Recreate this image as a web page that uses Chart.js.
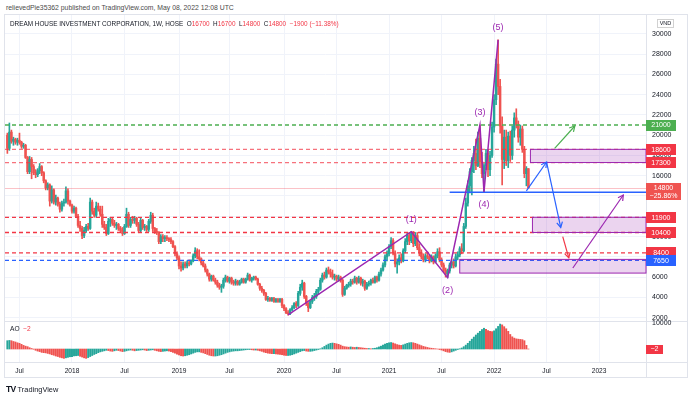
<!DOCTYPE html>
<html><head><meta charset="utf-8">
<script src="https://cdn.jsdelivr.net/npm/chart.js@4"></script>
<style>
html,body{margin:0;padding:0;background:#fff;}
#wrap{position:relative;width:690px;height:399px;overflow:hidden;background:#fff;font-family:"Liberation Sans",Arial,sans-serif;}
.abs{position:absolute;white-space:nowrap;}
.r{color:#f23645;}
</style></head><body>
<div id="wrap">
  <div class="abs" style="left:4px;top:14px;width:684px;height:364px;border:1px solid #e0e3eb;box-sizing:border-box"></div>
  <div class="abs" style="left:4px;top:321px;width:684px;height:1px;background:#e0e3eb"></div>
  <div class="abs" style="left:4px;top:362px;width:684px;height:1px;background:#e0e3eb"></div>
  <div class="abs" style="left:646px;top:14px;width:1px;height:364px;background:#e0e3eb"></div>
  <canvas id="main" class="abs" style="left:5px;top:15px" width="683" height="306"></canvas>
  <canvas id="aoc" class="abs" style="left:5px;top:314px" width="683" height="63"></canvas>
  <div id="hdr" class="abs" style="left:6px;top:3px;line-height:10px;color:#4a4a4a">relievedPie35362 published on TradingView.com, May 08, 2022 12:08 UTC</div>
  <div id="leg" class="abs" style="left:10px;top:19px;line-height:10px;color:#131722">DREAM HOUSE INVESTMENT CORPORATION, 1W, HOSE&nbsp; O<span class="r">16700</span>&nbsp; H<span class="r">16700</span>&nbsp; L<span class="r">14800</span>&nbsp; C<span class="r">14800</span>&nbsp; <span class="r">−1900 (−11.38%)</span></div>
  <div id="aol" class="abs" style="left:10px;top:324px;line-height:10px;color:#131722;font-size:6.6px">AO&nbsp; <span class="r">−2</span></div>
  <div id="foot" class="abs" style="left:6px;top:384px;line-height:10px;color:#131722;font-size:7.4px"><b style="font-size:8.5px;letter-spacing:-0.6px">TV</b> TradingView</div>
</div>
<script>
const FONT = '"Liberation Sans", Arial, sans-serif';

// ---------------- DATA ----------------
const firstWeek = '2017-05-22';   // weekly candles, one per Monday
const open = [
20000,18700,20300,19400,19600,19300,19500,19300,18900,19000,
17800,16400,17600,16900,16300,16100,16500,16900,16300,15500,
14800,15100,13500,14600,13400,13800,13200,12700,13300,13400,
14500,13500,13100,12500,12800,12000,11100,10800,10100,10600,
11000,10800,13400,12500,12100,13000,12700,12200,11200,10900,
10300,11500,11700,11300,11100,11200,10800,10600,10300,11000,
12200,11100,11700,11600,11800,11200,10600,11600,10900,11000,
10700,11500,12100,10800,10500,10400,9500,10000,9800,9900,
9800,9700,9500,9000,8300,7900,7100,6900,7300,7100,
7400,7300,7600,8100,8600,8000,7800,7400,7100,6700,
6300,5800,6100,5700,5500,5200,5000,5100,5700,6000,
5600,5900,5500,5400,5600,5300,5500,5800,5500,5800,
6200,5700,5900,6000,5800,5300,4900,4700,4400,3800,
3900,3700,3900,3600,3800,3600,3800,3200,2900,2500,
2400,2800,3000,3400,3200,4400,5000,5400,4100,3400,
3000,3600,4000,4100,4600,4800,5700,6200,6000,6700,
6500,6300,6000,6100,5800,6000,5700,4300,4900,5200,
5300,5600,5500,5900,5500,5900,5400,5600,4900,5300,
5400,5700,5500,6000,5700,6300,6700,7200,8000,8300,
9000,9600,8400,7300,7500,7900,7600,8600,9500,10100,
9600,10300,9300,10100,8900,8400,8000,7700,8100,8000,
7600,8000,7500,8100,8500,7700,7200,6700,6300,6600,
7200,7500,7100,8000,8200,8800,8600,11000,13300,15000,
16400,17500,18200,17000,19700,17400,16200,17000,18200,16600,
18000,20800,23500,27000,24800,20900,17600,19800,17500,19900,
18000,20500,21700,21000,19800,20600,18600,16200,16700];
const high = [
20200,21200,20500,19800,19700,19700,20200,19400,19200,19100,
17900,17900,17800,17100,16600,16700,17200,17000,16400,15600,
15300,15200,15000,14700,14100,13900,13400,13500,13700,14900,
14700,13600,13200,13000,12900,12200,11500,11000,10900,11200,
11300,13800,13600,12800,13400,13300,13000,13000,11500,11200,
11800,11900,11900,11600,11400,11300,11000,10900,11200,12800,
12400,11900,12000,12000,11900,11400,11800,11700,11200,11100,
11700,12400,12300,10900,10800,10500,10200,10200,10100,10100,
9900,9900,9600,9100,8500,8100,7500,7500,7500,7600,
7700,7700,8300,8900,8800,8700,7900,7600,7300,6800,
6400,6200,6200,5900,5700,5400,5300,5900,6200,6100,
6000,6000,5700,5800,5700,5700,5900,5900,5900,6400,
6300,6000,6100,6100,5900,5400,5100,4800,4500,4100,
4000,4000,4000,3900,3900,3900,3900,3300,3000,2700,
2900,3200,3500,3600,4600,5300,5700,5500,4200,3500,
3700,4200,4400,4800,5000,5900,6400,6500,6900,7000,
6800,6700,6300,6200,6200,6100,5800,5100,5300,5500,
5800,5800,6100,6000,6100,6000,5800,5700,5500,5600,
5800,5900,6100,6100,6500,6900,7400,8200,8600,9200,
9900,9800,8600,7800,8200,8300,8800,9800,10400,10400,
10500,10500,10400,10400,9300,8700,8300,8300,8500,8200,
8200,8100,8300,8800,8900,7900,7400,6900,6800,7400,
7700,7800,8300,8500,9000,9300,11300,13800,15500,16700,
17800,18900,19600,20300,21000,18300,17200,18600,18600,18400,
21300,24000,27500,29400,25500,21800,20500,20500,20300,20400,
20900,22200,22600,21400,21000,20900,18900,16900,16700];
const low = [
18200,18500,19200,19000,19100,19000,19100,18700,18700,17700,
16200,16200,15700,16100,15800,15900,16200,16000,15300,14600,
14600,13000,13300,13200,13100,13000,12400,12500,13000,13300,
13200,13000,12300,12300,11900,10900,10500,9800,9900,10400,
10600,10700,12200,11900,11900,12500,12000,10900,10700,10100,
10200,11000,11100,10900,10700,10600,10400,10100,10200,10900,
10900,10900,11300,11300,11000,10400,10400,10700,10600,10500,
10500,11300,10500,10300,10200,9300,9300,9500,9500,9600,
9500,9300,8900,8100,7700,6800,6600,6700,6900,6900,
7100,7200,7500,7900,7800,7600,7200,7000,6500,6100,
5600,5600,5600,5300,5000,4800,4500,4900,5500,5500,
5400,5300,5200,5200,5200,5200,5400,5400,5400,5700,
5600,5500,5700,5700,5200,4700,4500,4200,3700,3600,
3600,3600,3500,3500,3500,3500,3000,2700,2400,2250,
2300,2700,2900,3000,3100,4200,4700,3900,3200,2600,
2900,3400,3700,3900,4300,4700,5500,5800,5900,6300,
6000,5800,5700,5600,5600,5500,4100,4200,4800,5000,
5100,5300,5400,5300,5400,5200,5100,4700,4800,5100,
5200,5400,5400,5500,5600,6100,6600,7000,7600,8100,
8800,8200,7000,6400,7200,7400,7500,8400,9200,9200,
9400,9000,9100,8700,8100,7800,7500,7500,7800,7400,
7500,7300,7400,7900,7500,7000,6500,6000,5950,6400,
6900,6900,7000,7700,8000,8300,8500,10800,13000,14300,
14100,16300,16600,16900,16800,15800,14400,16600,15900,16000,
17800,20300,23000,24000,20200,15100,16700,17000,16800,17400,
17600,19800,20700,19300,19000,18300,15800,15000,14800];
const close = [
18700,20300,19400,19600,19300,19500,19300,18900,19000,17800,
16400,17600,16900,16300,16100,16500,16900,16300,15500,14800,
15100,13500,14600,13400,13800,13200,12700,13300,13400,14500,
13500,13100,12500,12800,12000,11100,10800,10100,10600,11000,
10800,13400,12500,12100,13000,12700,12200,11200,10900,10300,
11500,11700,11300,11100,11200,10800,10600,10300,11000,12200,
11100,11700,11600,11800,11200,10600,11600,10900,11000,10700,
11500,12100,10800,10500,10400,9500,10000,9800,9900,9800,
9700,9500,9000,8300,7900,7100,6900,7300,7100,7400,
7300,7600,8100,8600,8000,7800,7400,7100,6700,6300,
5800,6100,5700,5500,5200,5000,5100,5700,6000,5600,
5900,5500,5400,5600,5300,5500,5800,5500,5800,6200,
5700,5900,6000,5800,5300,4900,4700,4400,3800,3900,
3700,3900,3600,3800,3600,3800,3200,2900,2500,2400,
2800,3000,3400,3200,4400,5000,5400,4100,3400,3000,
3600,4000,4100,4600,4800,5700,6200,6000,6700,6500,
6300,6000,6100,5800,6000,5700,4300,4900,5200,5300,
5600,5500,5900,5500,5900,5400,5600,4900,5300,5400,
5700,5500,6000,5700,6300,6700,7200,8000,8300,9000,
9600,8400,7300,7500,7900,7600,8600,9500,10100,9600,
10300,9300,10100,8900,8400,8000,7700,8100,8000,7600,
8000,7500,8100,8500,7700,7200,6700,6300,6600,7200,
7500,7100,8000,8200,8800,8600,11000,13300,15000,16400,
17500,18200,17000,19700,17400,16200,17000,18200,16600,18000,
20800,23500,27000,24800,20900,17600,19800,17500,19900,18000,
20500,21700,21000,19800,20600,18600,16200,16700,14800];
// Awesome Oscillator histogram
const ao = [
3200,3300,3200,2900,2700,2400,2200,
1800,1400,1100,900,500,200,
-100,-500,-800,-1000,-1300,-1400,-1500,-1700,
-1900,-2200,-2400,-2700,-2900,-3200,-3400,-3600,
-3400,-3200,-3000,-2900,-2700,-2600,-2500,
-2800,-3100,-3400,-3600,
-3300,-2900,-2500,-2100,-1800,-1400,-1100,-900,-700,-500,
-600,-800,-900,-700,-500,-600,-800,-1000,-900,-700,-500,-400,-500,-700,-600,-500,
-400,-300,-400,-600,-500,-400,-300,-500,-700,-900,-1000,-900,-800,-700,-800,-1000,-1300,-1600,-2000,-2300,
-2600,-2700,-2600,-2400,-2200,-1900,-1600,-1300,-1100,-1100,-1300,-1500,-1800,-2100,-2400,-2600,-2700,-2700,-2600,
-2400,-2200,-1900,-1600,-1300,-1100,-900,-800,-700,-700,-600,-500,-400,-300,-200,-200,-300,-400,-400,-500,-700,
-900,-1200,-1400,-1600,-1700,-1800,-1800,-1900,-2000,-2100,-2200,-2400,-2500,-2500,-2400,-2200,-1900,-1600,-1300,-1000,
-700,-600,-800,-900,-900,-800,-600,-400,-200,100,
500,1000,1500,1900,2200,2300,2200,2000,1800,1500,
1100,900,800,700,800,700,600,700,600,500,400,300,200,200,100,200,300,500,800,1100,
1500,1900,2200,2400,2500,2300,2000,1700,1500,1400,
1600,1900,2200,2400,2500,2400,2200,1900,1600,1300,
1000,800,600,400,300,200,100,0,-200,-400,-700,-1000,-1200,-1300,
-1100,-800,-500,-200,100,400,900,
1500,2200,3000,3800,4600,5400,6100,6800,7500,8000,
7600,7100,6800,6700,
7000,7800,8700,9600,
9300,8600,7800,6800,5600,4700,
4200,3900,3800,3700,3600,3200,
1400,-2];
const priceTicks = [2000,4000,6000,8000,10000,12000,14000,16000,18000,20000,22000,24000,26000,28000,30000];
const aoTicks = [10000];
const timeTickDates = ['2017-07-03','2018-01-01','2018-07-02','2019-01-07','2019-07-01','2020-01-06','2020-07-06','2021-01-04','2021-07-05','2022-01-03','2022-07-04','2023-01-02'];
const timeTickLabels = ['Jul','2018','Jul','2019','Jul','2020','Jul','2021','Jul','2022','Jul','2023'];
// horizontal levels drawn on the chart
const levelPrices = [21000,18600,17300,11900,10400,8400,7650];
// zones
const boxStart = ['2022-05-09','2022-05-16','2021-09-06'];
const boxTop = [18600,11900,7750];
const boxBottom = [17300,10400,6400];
// Elliott wave count
const waveDates = ['2020-01-20','2021-03-22','2021-07-26','2021-11-15','2021-11-29','2022-01-17'];
const wavePrices = [2270,10480,5950,21000,14400,29400];
const waveLabels = ['','(1)','(2)','(3)','(4)','(5)'];
// support line
const supportDate = '2021-08-02';
const supportPrice = 14370;
// projected paths
const greenPath = [['2022-08-01',18700],['2022-10-10',20900]];
const bluePath = [['2022-04-25',14500],['2022-07-04',17350],['2022-08-22',10900]];
const redPath = [['2022-08-29',10000],['2022-09-19',7900]];
const purplePath = [['2022-10-03',6900],['2023-03-27',14100]];
// price tags on the right axis
const tagPrices = [21000,18600,17300,14800,11900,10400,8400,7650];
const lastPrice = 14800;
const lastPct = '−25.86%';
const aoLast = -2;

// ---------------- STYLE / LAYOUT ----------------
const UP = '#26a69a', DOWN = '#ef5350';
const levelColors = ['#4caf50','rgba(242,54,69,0.7)','rgba(242,54,69,0.7)','#f23645','#f23645','#f23645','#2962ff'];
const tagColors = ['#4caf50','#f23645','#f23645','#ef5350','#f23645','#f23645','#f23645','#2962ff'];
const X_MIN = 132.8, X_MAX = 2354.6;     // visible time range (days since 2017-01-01)
const Y_MIN = 1675, Y_MAX = 31846;       // visible price range
const AO_MIN = -5000, AO_MAX = 10400;

const DAY0 = Date.UTC(2017,0,1);
function dayOf(s){ const [y,m,d]=s.split('-').map(Number); return (Date.UTC(y,m-1,d)-DAY0)/86400000; }
const startDay = dayOf(firstWeek);
const candleDays = close.map((_,i)=>startDay+7*i);
const timeTickDays = timeTickDates.map(dayOf);

const wickData = candleDays.map((d,i)=>({x:d, y:[low[i],high[i]]}));
const bodyData = candleDays.map((d,i)=>({x:d, y:[open[i],close[i]]}));
const candleColors = close.map((c,i)=> c>=open[i] ? UP : DOWN);
const aoData = candleDays.map((d,i)=>({x:d, y:ao[i]}));
const aoColors = ao.map((v,i)=> (i===0 || v>=ao[i-1]) ? UP : DOWN);

function fitText(el, w){ el.style.fontSize='10px'; const ww=el.getBoundingClientRect().width; el.style.fontSize=(10*w/ww)+'px'; }
fitText(document.getElementById('hdr'), 228);
fitText(document.getElementById('leg'), 329);

function arrowPath(ctx, pts, color){
  ctx.strokeStyle=color; ctx.lineWidth=1.2; ctx.setLineDash([]);
  for(let k=1;k<pts.length;k++){
    const [x0,y0]=pts[k-1],[x1,y1]=pts[k];
    ctx.beginPath(); ctx.moveTo(x0,y0); ctx.lineTo(x1,y1); ctx.stroke();
    const a=Math.atan2(y1-y0,x1-x0), L=6;
    ctx.beginPath();
    ctx.moveTo(x1-L*Math.cos(a-0.5), y1-L*Math.sin(a-0.5));
    ctx.lineTo(x1,y1);
    ctx.lineTo(x1-L*Math.cos(a+0.5), y1-L*Math.sin(a+0.5));
    ctx.stroke();
  }
}
function tag(ctx, x, yc, w, h, bg, lines){
  ctx.fillStyle=bg; ctx.fillRect(x, Math.round(yc-h/2), w, h);
  ctx.fillStyle='#fff'; ctx.font='7px '+FONT; ctx.textAlign='center'; ctx.textBaseline='middle';
  lines.forEach((t,k)=>ctx.fillText(t, x+w/2, yc-(lines.length-1)*4+k*8+0.5));
}

const overlay = {
  id:'overlay',
  afterDatasetsDraw(chart){
    const ctx=chart.ctx, a=chart.chartArea, xs=chart.scales.x, ys=chart.scales.y;
    const P=(d,p)=>[xs.getPixelForValue(typeof d==='string'?dayOf(d):d), ys.getPixelForValue(p)];
    ctx.save();
    // last price line
    let yy=Math.round(ys.getPixelForValue(lastPrice))+0.5;
    ctx.strokeStyle='rgba(242,54,69,0.3)'; ctx.lineWidth=1;
    ctx.beginPath(); ctx.moveTo(a.left,yy); ctx.lineTo(a.right,yy); ctx.stroke();
    // dashed levels
    ctx.lineWidth=1.3; ctx.setLineDash([4,3]);
    levelPrices.forEach((p,k)=>{ const y=ys.getPixelForValue(p); ctx.strokeStyle=levelColors[k]; ctx.beginPath(); ctx.moveTo(a.left,y); ctx.lineTo(a.right,y); ctx.stroke(); });
    ctx.setLineDash([]);
    // zones
    boxStart.forEach((d,k)=>{
      const x0=xs.getPixelForValue(dayOf(d)), y0=ys.getPixelForValue(boxTop[k]), y1=ys.getPixelForValue(boxBottom[k]);
      ctx.fillStyle='rgba(156,39,176,0.2)'; ctx.fillRect(x0,y0,a.right-x0,y1-y0);
      ctx.strokeStyle='#9c27b0'; ctx.lineWidth=1; ctx.strokeRect(x0,y0,a.right-x0,y1-y0);
    });
    // support line
    const [sx,sy]=P(supportDate,supportPrice);
    ctx.strokeStyle='#2962ff'; ctx.lineWidth=1.4;
    ctx.beginPath(); ctx.moveTo(sx,sy); ctx.lineTo(a.right,sy); ctx.stroke();
    // wave
    ctx.strokeStyle='#9c27b0'; ctx.lineWidth=1.5; ctx.beginPath();
    waveDates.forEach((d,k)=>{ const [x,y]=P(d,wavePrices[k]); if(k===0) ctx.moveTo(x,y); else ctx.lineTo(x,y); });
    ctx.stroke();
    ctx.fillStyle='#9c27b0'; ctx.font='9px '+FONT; ctx.textAlign='center'; ctx.textBaseline='middle';
    waveDates.forEach((d,k)=>{ if(!waveLabels[k]) return; const [x,y]=P(d,wavePrices[k]); const up = k%2===1; ctx.fillText(waveLabels[k], x, up ? y-12 : y+13); });
    // paths
    arrowPath(ctx, greenPath.map(q=>P(q[0],q[1])), '#4caf50');
    arrowPath(ctx, bluePath.map(q=>P(q[0],q[1])), '#2962ff');
    arrowPath(ctx, redPath.map(q=>P(q[0],q[1])), '#f23645');
    arrowPath(ctx, purplePath.map(q=>P(q[0],q[1])), '#9c27b0');
    ctx.restore();
  },
  afterDraw(chart){
    const ctx=chart.ctx, a=chart.chartArea, ys=chart.scales.y;
    ctx.save();
    tagPrices.forEach((p,k)=>{
      const y=ys.getPixelForValue(p);
      if(p===lastPrice) tag(ctx, a.right, y+3.5, 35, 17, tagColors[k], [String(p), lastPct]);
      else tag(ctx, a.right, y, 30, 11, tagColors[k], [String(p)]);
    });
    // currency box
    ctx.strokeStyle='rgba(0,0,0,0.18)'; ctx.lineWidth=1;
    ctx.strokeRect(a.right+11.5, 4.5, 16, 8);
    ctx.fillStyle='#131722'; ctx.font='5.5px '+FONT; ctx.textAlign='center'; ctx.textBaseline='middle';
    ctx.fillText('VND', a.right+19.5, 8.8);
    ctx.restore();
  }
};

const aoOverlay = {
  id:'aoOverlay',
  afterDraw(chart){
    const ctx=chart.ctx, a=chart.chartArea, ys=chart.scales.y;
    ctx.save();
    tag(ctx, a.right, ys.getPixelForValue(aoLast), 17, 9, '#f23645', ['−2']);
    ctx.restore();
  }
};

const gridColor = '#f0f3fa';
function xScale(showLabels){
  return {
    type:'linear', min:X_MIN, max:X_MAX, offset:false,
    grid:{color:gridColor, drawTicks:false, offset:false},
    border:{display:false},
    ticks:{display:showLabels, autoSkip:false, maxRotation:0, padding:5, color:'#131722', font:{size:6.6, family:FONT},
           callback:(v,i)=>timeTickLabels[i]},
    afterBuildTicks:s=>{ s.ticks=timeTickDays.map(v=>({value:v})); },
    afterFit:s=>{ s.height = showLabels ? 15 : 0; s.paddingLeft=0; s.paddingRight=0; }
  };
}

new Chart(document.getElementById('main'), {
  type:'bar',
  data:{datasets:[
    {data:wickData, backgroundColor:candleColors, barThickness:1, grouped:false, order:2},
    {data:bodyData, backgroundColor:candleColors, barThickness:1.8, minBarLength:1, grouped:false, order:1}
  ]},
  options:{
    responsive:false, animation:false, devicePixelRatio:1,
    layout:{padding:0},
    plugins:{legend:{display:false}, tooltip:{enabled:false}},
    scales:{
      x:xScale(false),
      y:{position:'right', min:Y_MIN, max:Y_MAX,
         grid:{color:gridColor, drawTicks:false}, border:{display:false},
         ticks:{color:'#131722', padding:6, font:{size:7, family:FONT}, callback:v=>String(v)},
         afterBuildTicks:s=>{ s.ticks=priceTicks.map(v=>({value:v})); },
         afterFit:s=>{ s.width=42; s.paddingTop=0; s.paddingBottom=0; }}
    }
  },
  plugins:[overlay]
});

new Chart(document.getElementById('aoc'), {
  type:'bar',
  data:{datasets:[{data:aoData, backgroundColor:aoColors, barThickness:1.3, grouped:false}]},
  options:{
    responsive:false, animation:false, devicePixelRatio:1,
    layout:{padding:{top:8,left:0,right:0,bottom:0}},
    plugins:{legend:{display:false}, tooltip:{enabled:false}},
    scales:{
      x:xScale(true),
      y:{position:'right', min:AO_MIN, max:AO_MAX,
         grid:{display:false, drawTicks:false}, border:{display:false},
         ticks:{color:'#131722', padding:6, font:{size:7, family:FONT}, callback:v=>String(v)},
         afterBuildTicks:s=>{ s.ticks=aoTicks.map(v=>({value:v})); },
         afterFit:s=>{ s.width=42; s.paddingTop=0; s.paddingBottom=0; }}
    }
  },
  plugins:[aoOverlay]
});
</script>
</body></html>
